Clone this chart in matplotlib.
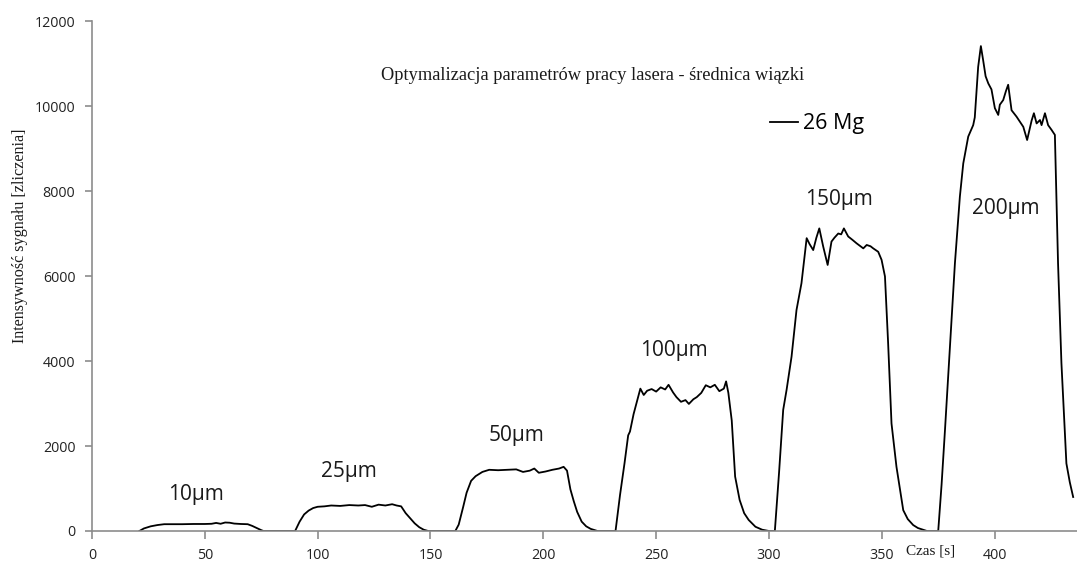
import numpy as np
import matplotlib.pyplot as plt

# 26 Mg signal, one burst per beam diameter
t10 = [21, 23, 26, 29, 32, 36, 40, 45, 50, 53, 55, 57, 59, 61, 63, 66, 69, 71, 73, 75, 76]
i10 = [0, 60, 110, 140, 160, 160, 160, 165, 165, 170, 190, 170, 200, 195, 175, 165, 160, 120, 70, 20, 0]

t25 = [90, 92, 94, 96, 98, 100, 103, 106, 110, 114, 118, 121, 124, 127, 130, 133, 135, 137, 139, 141, 143, 145, 147, 149]
i25 = [0, 220, 390, 480, 540, 570, 580, 600, 590, 610, 600, 610, 570, 620, 600, 630, 600, 580, 420, 300, 180, 90, 30, 0]

t50 = [161, 162.5, 164.5, 166, 168, 170, 173, 176, 180, 184, 188, 191, 194, 196, 198, 201, 204, 207, 209, 210.5, 212,
       213.5, 215, 217, 219, 221, 224]
i50 = [0, 150, 570, 900, 1180, 1290, 1390, 1440, 1430, 1440, 1450, 1390, 1420, 1470, 1370, 1400, 1440, 1470, 1510, 1420,
       980, 700, 450, 220, 110, 50, 0]

t100 = [232, 234, 236, 237.6, 238.4, 240, 241.5, 243, 244.5, 246, 248, 250, 252, 254, 255.5, 257.5, 259, 261, 263, 264.5,
        266.5, 268, 270, 272, 274, 276, 278, 280, 281, 282, 283.5, 285, 287, 289, 291, 294, 297, 300]
i100 = [0, 850, 1600, 2250, 2340, 2750, 3050, 3350, 3200, 3300, 3340, 3280, 3380, 3330, 3440, 3260, 3150, 3040, 3080, 2990,
        3100, 3150, 3250, 3430, 3380, 3440, 3290, 3350, 3520, 3250, 2600, 1280, 730, 420, 260, 100, 30, 0]

t150 = [302.6, 304.5, 306.3, 307.8, 310, 312.2, 314.4, 316.7, 318, 319.6, 321, 322.3, 324, 326, 327.7, 329, 330.7, 332,
        333.2, 335.1, 337, 338.8, 341.8, 343.3, 345, 346.2, 348.4, 349.9, 351.4, 352.8, 354.3, 356.5, 359.5, 361.5, 363.9,
        366, 368.3, 370]
i150 = [0, 1400, 2850, 3320, 4100, 5200, 5830, 6890, 6750, 6610, 6900, 7120, 6700, 6260, 6810, 6900, 7000, 6980,
        7120, 6930, 6850, 6770, 6650, 6730, 6700, 6650, 6570, 6380, 5990, 4420, 2530, 1510, 490, 280, 140,
        70, 30, 0]

t200 = [375, 376.5, 378, 380.2, 382.4, 384.6, 386.1, 388.3, 390.5, 391.2, 392.7, 393.9, 394.9, 396, 397.2, 398.6, 400.1,
        401.6, 402.3, 403.8, 405, 406, 407.5, 409.7, 411.2, 412.7, 414.4, 416.4, 417.4, 418.6, 420.1, 420.8, 422.3, 423.7,
        425.2, 426.7, 428.1, 429.6, 431.8, 433.3, 434.8]
i200 = [0, 1100, 2380, 4340, 6300, 7870, 8650, 9280, 9550, 9730, 10920, 11410, 11080, 10700, 10530, 10390, 9950,
        9790, 10030, 10140, 10350, 10500, 9900, 9750, 9630, 9510, 9200, 9660, 9830, 9590, 9670, 9550, 9830, 9550,
        9440, 9320, 6300, 3950, 1590, 1150, 800]

# peak labels and where they sit (data coords)
peak_labels = ["10µm", "25µm", "50µm", "100µm", "150µm", "200µm"]
label_x = [46, 114, 188, 258, 331, 405]
label_y = [850, 1410, 2240, 4240, 7810, 7600]

time = np.concatenate([t10, t25, t50, t100, t150, t200])
signal = np.concatenate([i10, i25, i50, i100, i150, i200])

W, H = 1077, 563
fig = plt.figure(figsize=(W / 100, H / 100), dpi=100)
ax = fig.add_axes([92 / W, 1 - 531 / H, (W - 92) / W, (531 - 21) / H])

ax.plot(time, signal, color='black', lw=1.3, label='26 Mg')

ax.set_xlim(0, 436.5)
ax.set_ylim(0, 12000)
ax.set_xticks(np.arange(0, 401, 50))
ax.set_yticks(np.arange(0, 12001, 2000))

grey = '#8c8c8c'
for side in ['top', 'right']:
    ax.spines[side].set_visible(False)
for side in ['left', 'bottom']:
    ax.spines[side].set_color(grey)
    ax.spines[side].set_linewidth(1.2)
ax.tick_params(axis='both', direction='out', color=grey, width=1.2, labelcolor='#222222',
               labelsize=10.3, labelfontfamily='Open Sans')
ax.tick_params(axis='x', length=6, pad=6)
ax.tick_params(axis='y', length=5, pad=7)

for txt, x, y in zip(peak_labels, label_x, label_y):
    ax.text(x, y, txt, ha='center', va='center', fontsize=15, family='Open Sans', color='#1a1a1a')

fig.text(593 / W, 1 - 75 / H, 'Optymalizacja parametrów pracy lasera - średnica wiązki',
         ha='center', va='center', fontsize=13.2, family='Liberation Serif', color='#1a1a1a')
fig.text(20 / W, 1 - 236 / H, 'Intensywność sygnału [zliczenia]', rotation=90,
         ha='center', va='center', fontsize=11.6, family='Liberation Serif', color='#1a1a1a')
fig.text(931 / W, 1 - 551 / H, 'Czas [s]', ha='center', va='center', fontsize=11,
         family='Liberation Serif', color='#1a1a1a')

ax.legend(loc='center left', bbox_to_anchor=(770 / W, 1 - 124 / H), bbox_transform=fig.transFigure,
          frameon=False, handlelength=1.3, handletextpad=0.25, borderpad=0, borderaxespad=0,
          prop={'family': 'Open Sans', 'size': 15.5})

fig.savefig('out.png', dpi=100)
plt.close(fig)
